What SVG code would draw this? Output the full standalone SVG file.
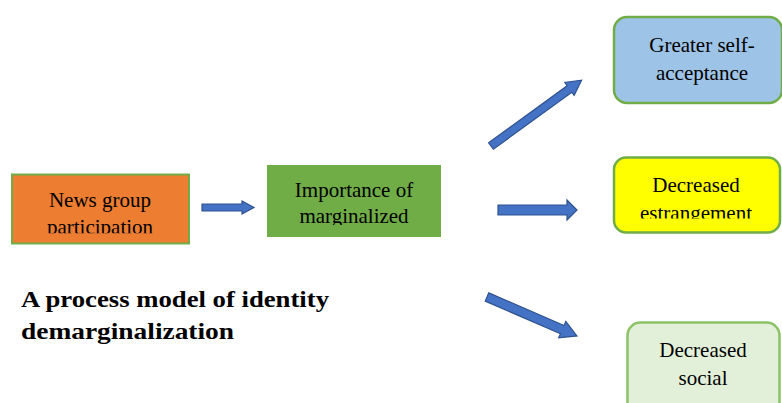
<svg xmlns="http://www.w3.org/2000/svg" width="782" height="403" viewBox="0 0 782 403">
<style>
.t{font-family:"Liberation Serif","Times New Roman",serif;font-size:21px;fill:#000;text-anchor:middle}
.title{font-family:"Liberation Serif","Times New Roman",serif;font-size:24px;font-weight:bold;fill:#000}
.arr{fill:#4472C4;stroke:#2F528F;stroke-width:1.2}
</style>
<defs>
<clipPath id="c1"><rect x="11" y="174" width="178" height="59.3"/></clipPath>
<clipPath id="c2"><rect x="267" y="165" width="174" height="60"/></clipPath>
<clipPath id="c3"><rect x="613" y="157" width="167" height="61.5"/></clipPath>
</defs>
<rect width="782" height="403" fill="#fff"/>
<g id="news">
<rect x="12" y="174.5" width="177" height="69" fill="#ED7D31" stroke="#70AD47" stroke-width="2"/>
<g clip-path="url(#c1)"><text class="t" x="100" y="207">News group</text><text class="t" x="100" y="234">participation</text></g>
</g>
<g id="importance">
<rect x="267" y="165" width="174" height="72" fill="#70AD47"/>
<g clip-path="url(#c2)"><text class="t" x="354" y="197">Importance of</text><text class="t" x="354" y="223">marginalized</text></g>
</g>
<g id="acceptance">
<rect x="614" y="17" width="168" height="86" rx="13" fill="#9DC3E6" stroke="#70AD47" stroke-width="2.5"/>
<text class="t" x="702" y="52">Greater self-</text><text class="t" x="702" y="80">acceptance</text>
</g>
<g id="estrangement">
<rect x="614" y="157.5" width="166" height="75" rx="12" fill="#FFFF00" stroke="#70AD47" stroke-width="2.5"/>
<g clip-path="url(#c3)"><text class="t" x="696" y="192">Decreased</text><text class="t" x="696" y="220">estrangement</text></g>
</g>
<g id="social">
<rect x="627.5" y="322.5" width="152" height="100" rx="13" fill="#E2F0D9" stroke="#8CC266" stroke-width="2.5"/>
<text class="t" x="703" y="357">Decreased</text><text class="t" x="703" y="385">social</text>
</g>
<g id="connectors">
<polygon class="arr" points="202,204 242,204 242,201 254,207.5 242,214 242,211 202,211"/>
<polygon class="arr" points="498,205 567,205 567,200 577,210 567,220 567,215 498,215"/>
<polygon class="arr" transform="translate(491,146) rotate(-36)" points="0,-4 97,-4 97,-8 112,0 97,8 97,4 0,4"/>
<polygon class="arr" transform="translate(487,297) rotate(23.4)" points="0,-4.5 82,-4.5 82,-9 98,0 82,9 82,4.5 0,4.5"/>
</g>
<g id="title">
<text class="title" x="21" y="307" textLength="308" lengthAdjust="spacingAndGlyphs">A process model of identity</text>
<text class="title" x="21" y="339" textLength="213" lengthAdjust="spacingAndGlyphs">demarginalization</text>
</g>
</svg>
